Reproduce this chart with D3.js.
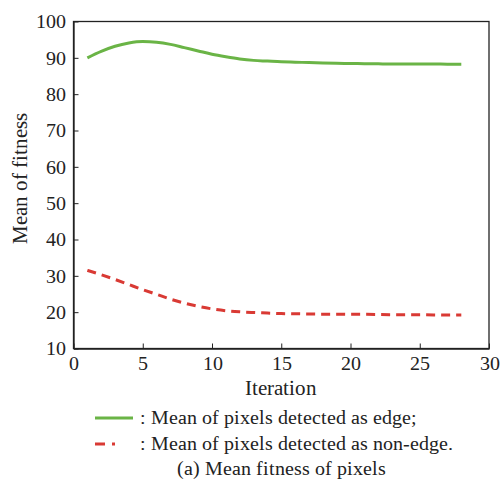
<!DOCTYPE html>
<html><head><meta charset="utf-8">
<script src="https://cdn.jsdelivr.net/npm/d3@7"></script>
<style>
@font-face{font-family:"ChartSerif";src:local("Liberation Serif"),local("LiberationSerif"),local("LiberationSerif-Regular"),local("Times New Roman");}
body{margin:0;background:#fff}svg{display:block}
svg text{font-family:"ChartSerif","Liberation Serif",serif}
</style>
</head><body><svg id="c" width="502" height="486"></svg>
<script>
const iterations = d3.range(1, 29);
const edgeMean = [90.0,91.8,93.2,94.1,94.5,94.3,93.7,92.8,91.9,91.0,90.3,89.7,89.3,89.1,88.9,88.8,88.7,88.6,88.5,88.45,88.4,88.35,88.3,88.3,88.3,88.3,88.25,88.25];
const nonEdgeMean = [31.5,30.3,29.0,27.6,26.2,24.9,23.6,22.5,21.6,20.9,20.4,20.1,19.9,19.75,19.6,19.55,19.5,19.45,19.45,19.4,19.4,19.35,19.3,19.3,19.3,19.25,19.2,19.2];
const xTicks = [0,5,10,15,20,25,30];
const yTicks = [10,20,30,40,50,60,70,80,90,100];
const legendLabels = [": Mean of pixels detected as edge;", ": Mean of pixels detected as non-edge."];
const caption = "(a) Mean fitness of pixels";

const svg = d3.select("#c");
const L=73.5,R=489,T=21.5,B=348.5;
const x = d3.scaleLinear().domain([0,30]).range([L,R]);
const y = d3.scaleLinear().domain([10,100]).range([B,T]);

svg.append("rect").attr("x",L).attr("y",T).attr("width",R-L).attr("height",B-T).attr("fill","none").attr("stroke","#222").attr("stroke-width",1.3);

const xa = svg.append("g").attr("transform",`translate(0,${B})`).call(d3.axisBottom(x).tickValues(xTicks).tickSizeInner(-5).tickSizeOuter(0).tickPadding(7));
const ya = svg.append("g").attr("transform",`translate(${L},0)`).call(d3.axisLeft(y).tickValues(yTicks).tickSizeInner(-5).tickSizeOuter(0).tickPadding(8));
[xa,ya].forEach(a=>{a.attr("font-family",null).attr("font-size",20);a.select(".domain").attr("stroke","#222").attr("stroke-width",1.3);a.selectAll(".tick line").attr("stroke","#222");a.selectAll("text").attr("fill","#222");});

const line = d3.line().x((d,i)=>x(iterations[i])).y(d=>y(d)).curve(d3.curveMonotoneX);
svg.append("path").datum(edgeMean).attr("d",line).attr("fill","none").attr("stroke","#6ab446").attr("stroke-width",3);
svg.append("path").datum(nonEdgeMean).attr("d",line).attr("fill","none").attr("stroke","#d93a34").attr("stroke-width",3).attr("stroke-dasharray","9,6");

const txt = (xx,yy,s,size,anchor)=>svg.append("text").attr("x",xx).attr("y",yy).attr("font-size",size).attr("fill","#222").attr("text-anchor",anchor||"start").text(s);
txt(281,395,"Iteration",21,"middle");
svg.append("text").attr("transform","translate(27,178) rotate(-90)").attr("font-size",21).attr("fill","#222").attr("text-anchor","middle").text("Mean of fitness");

svg.append("line").attr("x1",95).attr("x2",133).attr("y1",418).attr("y2",418).attr("stroke","#6ab446").attr("stroke-width",3);
svg.append("line").attr("x1",95).attr("x2",135).attr("y1",444).attr("y2",444).attr("stroke","#d93a34").attr("stroke-width",3).attr("stroke-dasharray","10,7,3,100");
txt(140,424,legendLabels[0],20);
txt(140,450,legendLabels[1],20);
txt(281,475,caption,20,"middle");
</script></body></html>
